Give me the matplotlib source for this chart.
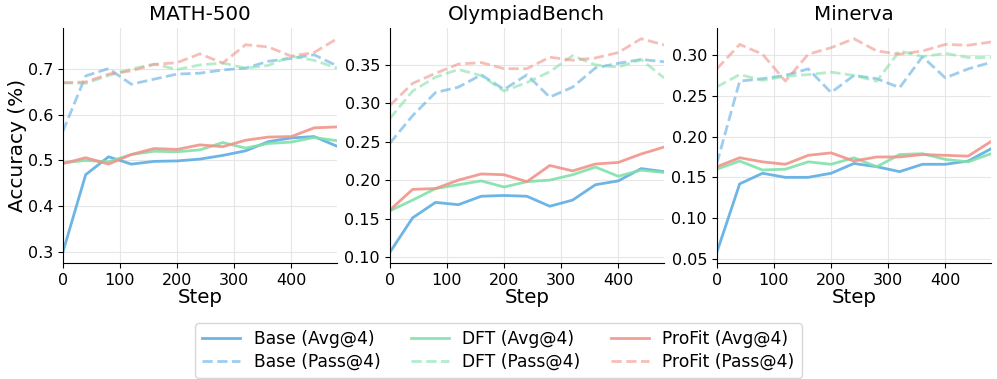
import matplotlib
matplotlib.use("Agg")
import matplotlib.pyplot as plt
import numpy as np

# =========================
# DATA
# =========================

steps = np.arange(0, 481, 40)

datasets = ["MATH-500", "OlympiadBench", "Minerva"]

math_base_avg = [0.300, 0.469, 0.508, 0.492, 0.498, 0.499, 0.503, 0.511, 0.521, 0.541, 0.549, 0.552, 0.531]
math_dft_avg = [0.495, 0.500, 0.497, 0.513, 0.520, 0.519, 0.523, 0.539, 0.527, 0.537, 0.540, 0.550, 0.543]
math_profit_avg = [0.493, 0.506, 0.492, 0.513, 0.526, 0.524, 0.534, 0.530, 0.544, 0.551, 0.552, 0.571, 0.573]
math_base_pass = [0.563, 0.684, 0.700, 0.666, 0.677, 0.688, 0.690, 0.697, 0.701, 0.716, 0.722, 0.730, 0.706]
math_dft_pass = [0.669, 0.668, 0.685, 0.699, 0.710, 0.698, 0.708, 0.712, 0.701, 0.707, 0.727, 0.718, 0.701]
math_profit_pass = [0.669, 0.671, 0.688, 0.695, 0.709, 0.713, 0.732, 0.712, 0.752, 0.747, 0.727, 0.735, 0.765]

oly_base_avg = [0.106, 0.151, 0.171, 0.168, 0.179, 0.180, 0.179, 0.166, 0.174, 0.194, 0.199, 0.215, 0.211]
oly_dft_avg = [0.160, 0.174, 0.189, 0.194, 0.199, 0.191, 0.198, 0.200, 0.207, 0.217, 0.205, 0.213, 0.210]
oly_profit_avg = [0.161, 0.188, 0.189, 0.200, 0.208, 0.207, 0.198, 0.219, 0.212, 0.221, 0.223, 0.234, 0.243]
oly_base_pass = [0.248, 0.284, 0.314, 0.321, 0.337, 0.318, 0.337, 0.308, 0.321, 0.346, 0.352, 0.357, 0.354]
oly_dft_pass = [0.280, 0.316, 0.334, 0.344, 0.336, 0.316, 0.327, 0.341, 0.362, 0.350, 0.347, 0.357, 0.333]
oly_profit_pass = [0.297, 0.326, 0.339, 0.351, 0.353, 0.345, 0.345, 0.360, 0.356, 0.359, 0.366, 0.384, 0.376]

min_base_avg = [0.058, 0.142, 0.155, 0.150, 0.150, 0.155, 0.167, 0.163, 0.157, 0.166, 0.166, 0.170, 0.185]
min_dft_avg = [0.160, 0.170, 0.159, 0.160, 0.169, 0.166, 0.174, 0.163, 0.178, 0.179, 0.172, 0.169, 0.179]
min_profit_avg = [0.163, 0.174, 0.169, 0.166, 0.177, 0.180, 0.170, 0.175, 0.175, 0.178, 0.177, 0.176, 0.194]
min_base_pass = [0.167, 0.268, 0.271, 0.275, 0.283, 0.254, 0.275, 0.271, 0.260, 0.298, 0.272, 0.283, 0.291]
min_dft_pass = [0.261, 0.276, 0.269, 0.274, 0.276, 0.279, 0.275, 0.268, 0.305, 0.298, 0.302, 0.297, 0.297]
min_profit_pass = [0.283, 0.313, 0.301, 0.268, 0.301, 0.309, 0.320, 0.305, 0.301, 0.305, 0.313, 0.312, 0.316]

all_data = [
    [math_base_avg, math_dft_avg, math_profit_avg, math_base_pass, math_dft_pass, math_profit_pass],
    [oly_base_avg, oly_dft_avg, oly_profit_avg, oly_base_pass, oly_dft_pass, oly_profit_pass],
    [min_base_avg, min_dft_avg, min_profit_avg, min_base_pass, min_dft_pass, min_profit_pass],
]

methods = ["Base", "DFT", "ProFit"]
colors = ["#5DADE2", "#82E0AA", "#F1948A"]

# =========================
# FIGURA
# =========================

fig = plt.figure(figsize=(9.97, 3.79), dpi=100)
lefts = [0.063, 0.391, 0.719]
axes = [fig.add_axes([l, 0.306, 0.275, 0.62]) for l in lefts]

for ax, name, series in zip(axes, datasets, all_data):
    for i, m in enumerate(methods):
        ax.plot(steps, series[i], color=colors[i], lw=2, alpha=0.9,
                label=f"{m} (Avg@4)")
    for i, m in enumerate(methods):
        ax.plot(steps, series[3 + i], color=colors[i], lw=2, ls="--", alpha=0.6,
                label=f"{m} (Pass@4)")
    ax.set_title(name, fontsize=14.3)
    ax.set_xlabel("Step", fontsize=14.3, labelpad=0)
    ax.set_xlim(0, 480)
    ax.set_xticks([0, 100, 200, 300, 400])
    ax.tick_params(labelsize=11.5)
    ax.grid(True, color="#e6e6e6", lw=0.8)
    ax.spines["top"].set_visible(False)
    ax.spines["right"].set_visible(False)

axes[0].set_ylabel("Accuracy (%)", fontsize=14.5, labelpad=0.5)
axes[0].set_yticks([0.3, 0.4, 0.5, 0.6, 0.7])
axes[1].set_yticks([0.10, 0.15, 0.20, 0.25, 0.30, 0.35])
axes[1].set_yticklabels([f"{v:.2f}" for v in [0.10, 0.15, 0.20, 0.25, 0.30, 0.35]])
axes[2].set_yticks([0.05, 0.10, 0.15, 0.20, 0.25, 0.30])
axes[2].set_yticklabels([f"{v:.2f}" for v in [0.05, 0.10, 0.15, 0.20, 0.25, 0.30]])

handles, labels = axes[0].get_legend_handles_labels()
order = [0, 3, 1, 4, 2, 5]
fig.legend([handles[k] for k in order], [labels[k] for k in order],
           loc="upper center", bbox_to_anchor=(0.5, 0.17), ncol=3,
           fontsize=12.3, columnspacing=1.8, handlelength=2.2,
           labelspacing=0.3, borderpad=0.4)

plt.savefig("out.png", dpi=100)
